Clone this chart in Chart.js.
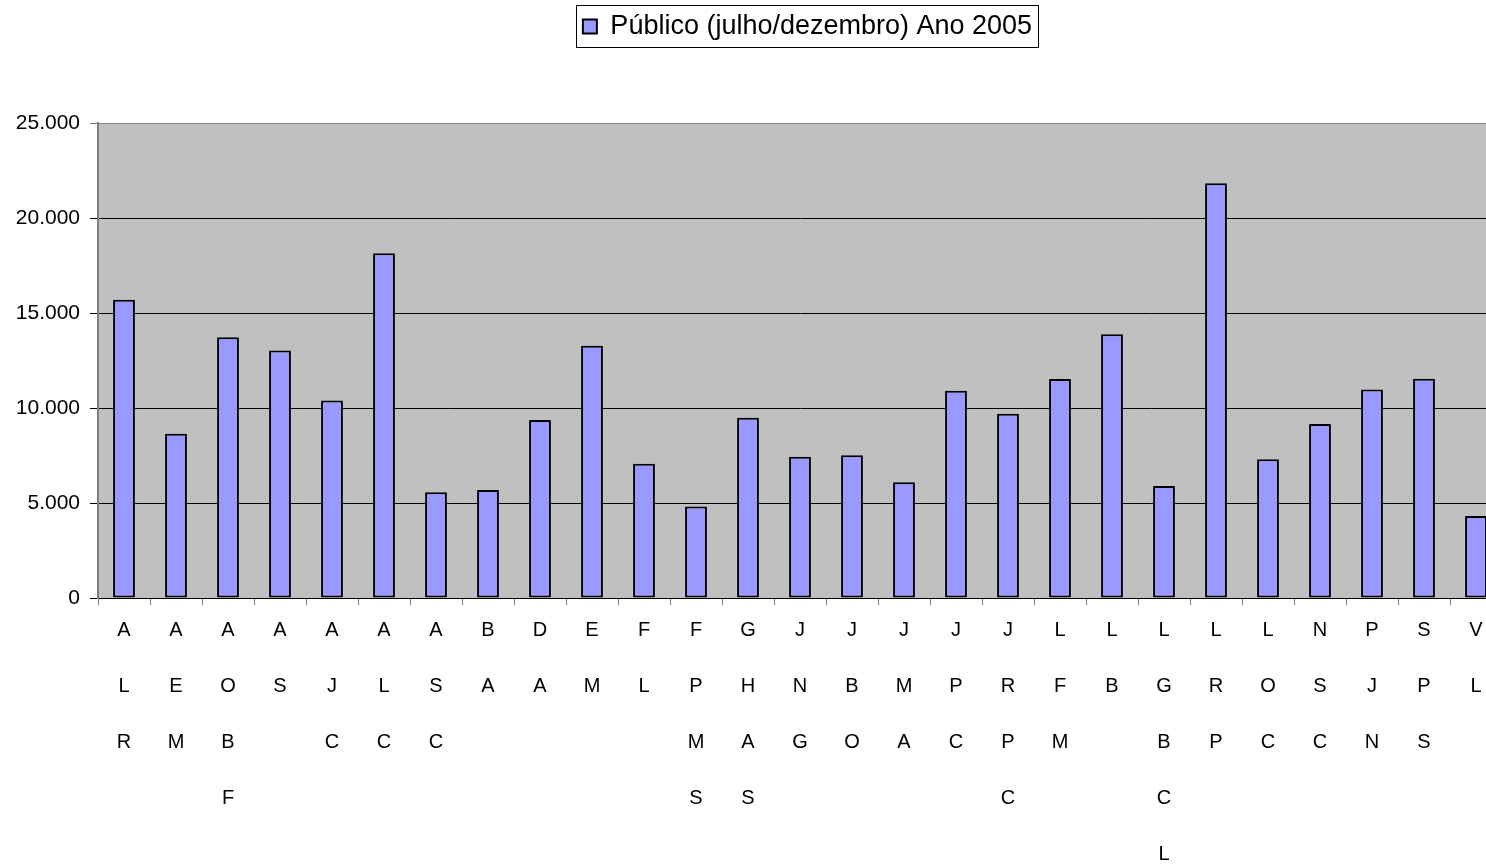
<!DOCTYPE html>
<html><head><meta charset="utf-8">
<script src="https://cdn.jsdelivr.net/npm/chart.js@4/dist/chart.umd.min.js"></script>
<style>
html,body{margin:0;padding:0;background:#fff;overflow:hidden;width:1486px;height:866px}
#wrap{width:1615px;height:900px}
</style></head>
<body><div id="wrap"><canvas id="c" width="1615" height="900"></canvas></div>
<script>
const categories = ['ALR','AEM','AOBF','AS','AJC','ALC','ASC','BA','DA','EM','FL','FPMS','GHAS','JNG','JBO','JMA','JPC','JRPC','LFM','LB','LGBCL','LRP','LOC','NSC','PJN','SPS','VL'];
const values = [15700, 8650, 13720, 13030, 10400, 18140, 5560, 5680, 9370, 13280, 7070, 4810, 9490, 7440, 7510, 6090, 10910, 9700, 11530, 13880, 5900, 21830, 7300, 9160, 10980, 11540, 4310];
const seriesName = 'Público (julho/dezembro) Ano 2005';
const yTicks = [0, 5000, 10000, 15000, 20000, 25000];

const FONT = 'Liberation Sans, Arial, sans-serif';
const fmt = v => String(v).replace(/\B(?=(\d{3})+(?!\d))/g, '.');

const plotBg = {
  id: 'plotBg',
  beforeDraw(chart) {
    const {ctx, chartArea: a} = chart;
    ctx.save();
    ctx.fillStyle = '#fff';
    ctx.fillRect(0, 0, chart.width, chart.height);
    ctx.fillStyle = '#C0C0C0';
    ctx.fillRect(a.left, a.top, a.right - a.left, a.bottom - a.top);
    ctx.restore();
  }
};
const legendFrame = {
  id: 'legendFrame',
  afterLayout(chart) {
    const lg = chart.legend;
    lg.left = 0; lg.right = chart.width; lg.width = chart.width;
  },
  afterDraw(chart) {
    const hb = chart.legend.legendHitBoxes && chart.legend.legendHitBoxes[0];
    if (!hb) return;
    const ctx = chart.ctx;
    ctx.save();
    ctx.strokeStyle = '#000';
    ctx.lineWidth = 1;
    ctx.strokeRect(Math.round(hb.left - 7) + 0.5, Math.round(hb.top - 8) + 0.5, Math.round(hb.width + 13), Math.round(hb.height + 15));
    ctx.restore();
  }
};

new Chart(document.getElementById('c'), {
  type: 'bar',
  data: {
    labels: categories.map(s => s.split('')),
    datasets: [{
      label: seriesName,
      data: values,
      backgroundColor: '#9999FF',
      borderColor: '#000',
      borderWidth: 2,
      borderSkipped: false,
      barPercentage: 0.42,
      categoryPercentage: 1.0
    }]
  },
  options: {
    responsive: false,
    animation: false,
    devicePixelRatio: 1,
    layout: {padding: {left: 0, right: 113, top: 0, bottom: 0}},
    plugins: {
      legend: {
        position: 'top',
        align: 'center',
        labels: {boxWidth: 14, boxHeight: 14, padding: 13, color: '#000', font: {family: FONT, size: 27}}
      },
      title: {display: true, text: '', position: 'top', weight: 500, font: {size: 10, lineHeight: 1}, padding: {top: 0, bottom: 63}},
      tooltip: {enabled: false}
    },
    scales: {
      x: {
        grid: {offset: true, drawOnChartArea: false, drawTicks: true, tickLength: 7, color: '#808080', lineWidth: 1},
        border: {display: true, color: '#000', width: 1},
        ticks: {autoSkip: false, maxRotation: 0, minRotation: 0, color: '#000', padding: -3, font: {family: FONT, size: 20, lineHeight: 2.8}},
        afterFit(s) { s.height = 302; }
      },
      y: {
        min: 0, max: 25000,
        afterBuildTicks(s) { s.ticks = yTicks.map(v => ({value: v})); },
        ticks: {color: '#000', padding: 10, font: {family: FONT, size: 21}, callback: v => fmt(v)},
        grid: {color: c => (c.tick && c.tick.value === 25000) ? '#808080' : '#000', lineWidth: 1, tickLength: 8, drawTicks: true},
        border: {display: true, color: '#808080', width: 2},
        afterFit(s) { s.width = 98; }
      }
    }
  },
  plugins: [plotBg, legendFrame]
});
</script>
</body></html>
